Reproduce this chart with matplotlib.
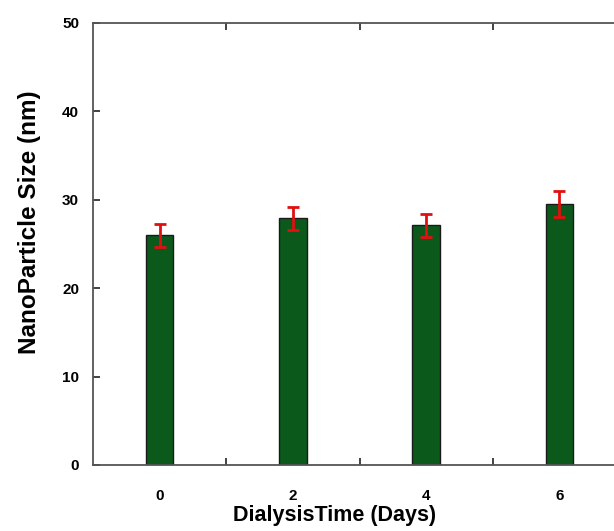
import matplotlib.pyplot as plt
import numpy as np

days = [0, 2, 4, 6]
size_nm = [26.0, 27.9, 27.1, 29.5]
err_nm = [1.3, 1.3, 1.3, 1.5]
yticks = [0, 10, 20, 30, 40, 50]

plt.rcParams['font.family'] = ['Liberation Sans', 'DejaVu Sans']
plt.rcParams['font.weight'] = 'bold'

fig = plt.figure(figsize=(6.14, 5.31), dpi=100)
ax = fig.add_axes([93/614, 66/531, 533/614, 442/531])

ax.bar(days, size_nm, width=0.41, color='#0b5a1c', edgecolor='#1a1a1a', linewidth=1.0, zorder=2)
ax.errorbar(days, size_nm, yerr=err_nm, fmt='none', ecolor='#e01010',
            elinewidth=2.0, capsize=4.5, capthick=2.0, zorder=3)

ax.set_xlim(-1, 7)
ax.set_ylim(0, 50)
ax.set_xticks(days)
ax.set_xticks([1, 3, 5], minor=True)
ax.set_yticks(yticks)

ax.tick_params(axis='x', which='major', length=0, pad=17, labelsize=11)
ax.tick_params(axis='x', which='minor', direction='in', length=5, width=1.2, top=True, color='#222')
ax.tick_params(axis='y', direction='in', length=5, width=1.2, pad=10, labelsize=11, color='#222')

for s in ['left', 'top', 'bottom']:
    ax.spines[s].set_color('#555555')
    ax.spines[s].set_linewidth(1.3)
ax.spines['right'].set_visible(False)

ax.set_xlabel('DialysisTime (Days)', fontsize=15.5, fontweight='bold')
ax.set_ylabel('NanoParticle Size (nm)', fontsize=17.5, fontweight='bold')
ax.xaxis.set_label_coords(0.454, -0.09)
ax.yaxis.set_label_coords(-0.097, 0.55)

fig.savefig('out.png', dpi=100)
